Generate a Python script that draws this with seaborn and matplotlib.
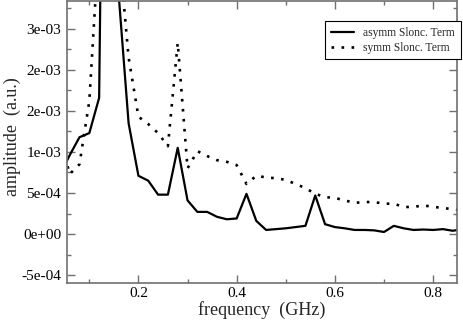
import numpy as np
import pandas as pd
import seaborn as sns
import matplotlib
matplotlib.use("Agg")
import matplotlib.pyplot as plt
from matplotlib.ticker import MultipleLocator, FixedLocator, FixedFormatter

# frequency samples (GHz)
freq = [0.04, 0.06, 0.08, 0.10, 0.12, 0.14, 0.16, 0.18, 0.20, 0.22,
        0.24, 0.26, 0.28, 0.30, 0.32, 0.34, 0.36, 0.38, 0.40, 0.42,
        0.44, 0.46, 0.48, 0.50, 0.52, 0.54, 0.56, 0.58, 0.60, 0.62,
        0.64, 0.66, 0.68, 0.70, 0.72, 0.74, 0.76, 0.78, 0.80, 0.82,
        0.84, 0.86]

# amplitudes in units of 1e-3
asymm = [0.72, 0.96, 1.18, 1.23, 1.66, 12.0, 2.9, 1.35, 0.71, 0.65,
         0.48, 0.48, 1.05, 0.41, 0.27, 0.27, 0.21, 0.18, 0.19, 0.49,
         0.16, 0.05, 0.06, 0.07, 0.085, 0.10, 0.47, 0.12, 0.085, 0.07,
         0.05, 0.05, 0.045, 0.025, 0.10, 0.07, 0.05, 0.055, 0.05, 0.06,
         0.04, 0.06]
symm = [1.18, 0.73, 0.85, 1.62, 3.6, 15.0, 3.5, 2.15, 1.43, 1.34,
        1.23, 1.07, 2.33, 0.80, 1.01, 0.95, 0.90, 0.88, 0.84, 0.61,
        0.71, 0.69, 0.68, 0.66, 0.61, 0.56, 0.49, 0.45, 0.44, 0.41,
        0.38, 0.39, 0.39, 0.37, 0.37, 0.33, 0.33, 0.35, 0.33, 0.32,
        0.30, 0.29]

ytick_vals = [-5e-4, 0.0, 5e-4, 1e-3, 1.5e-3, 2e-3, 2.5e-3]
ytick_labels = ["-5e-04", "0e+00", "5e-04", "1e-03", "2e-03", "2e-03", "3e-03"]
xtick_vals = [0.2, 0.4, 0.6, 0.8]

df = pd.DataFrame({"freq": freq,
                   "asymm": np.array(asymm) * 1e-3,
                   "symm": np.array(symm) * 1e-3})

sns.set_style("ticks")
plt.rcParams["font.family"] = ["Liberation Serif", "DejaVu Serif"]

fig = plt.figure(figsize=(4.63, 3.2), dpi=100)
ax = fig.add_axes([0.1441, 0.1147, 0.8423, 0.8823])

sns.lineplot(data=df, x="freq", y="asymm", ax=ax, color="black", lw=1.6,
             label="asymm Slonc. Term")
sns.lineplot(data=df, x="freq", y="symm", ax=ax, color="black", lw=1.9,
             linestyle=(0, (1, 2.8)), dash_capstyle="butt",
             label="symm Slonc. Term")

ax.set_xlim(0.054, 0.848)
ax.set_ylim(-6.0e-4, 2.84e-3)

ax.xaxis.set_major_locator(FixedLocator(xtick_vals))
ax.xaxis.set_minor_locator(MultipleLocator(0.1))
ax.yaxis.set_major_locator(FixedLocator(ytick_vals))
ax.yaxis.set_major_formatter(FixedFormatter(ytick_labels))
ax.yaxis.set_minor_locator(MultipleLocator(2.5e-4))

frame_col = "#707070"
for s in ax.spines.values():
    s.set_color(frame_col)
    s.set_linewidth(1.2)
ax.tick_params(which="both", direction="in", top=True, right=True,
               color=frame_col, width=1.0, labelsize=11, labelcolor="black")
ax.tick_params(which="major", length=5.5)
ax.tick_params(which="minor", length=3)
ax.tick_params(axis="y", pad=4)
ax.tick_params(axis="x", pad=3)

ax.set_xlabel("frequency  (GHz)", fontsize=13, va="baseline")
ax.set_ylabel("amplitude  (a.u.)", fontsize=13)
ax.xaxis.set_label_coords(0.5, -0.112)
ax.yaxis.set_label_coords(-0.118, 0.52)

leg = ax.legend(loc="upper right", bbox_to_anchor=(1.011, 0.929),
                borderaxespad=0, fontsize=8.3, frameon=True, fancybox=False,
                framealpha=1, edgecolor="black", handlelength=2.0,
                handletextpad=0.8, labelspacing=0.25, borderpad=0.5)
leg.get_frame().set_linewidth(0.8)
leg.set_zorder(5)

fig.savefig("out.png", dpi=100)
